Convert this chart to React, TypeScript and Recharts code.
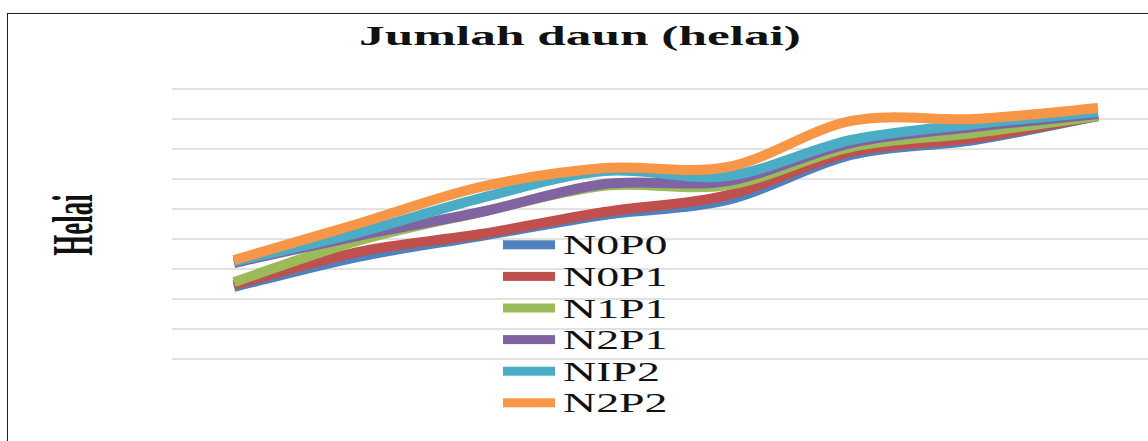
import { CartesianGrid, Legend, Line, LineChart, XAxis, YAxis } from "recharts"

// weekly observations (x labels are not shown in the chart)
const weeks = ["1", "2", "3", "4", "5", "6", "7", "8"]

const n0p0 = [4.8, 6.8, 8.2, 9.6, 10.6, 13.6, 14.6, 16.2]
const n0p1 = [4.93, 7.13, 8.33, 9.8, 10.93, 13.8, 14.73, 16.2]
const n1p1 = [5.13, 7.87, 9.8, 11.55, 11.6, 14.13, 15.07, 16.2]
const n2p1 = [6.4, 8.2, 9.8, 11.67, 11.87, 14.4, 15.47, 16.33]
const nip2 = [6.5, 8.4, 10.73, 12.53, 12.2, 14.6, 15.67, 16.47]
const n2p2 = [6.6, 9.0, 11.47, 12.73, 12.8, 15.87, 16.0, 16.73]

const yTicks = [0, 2, 4, 6, 8, 10, 12, 14, 16, 18]

const series = [
  { name: "N0P0", values: n0p0, color: "#4F81BD" },
  { name: "N0P1", values: n0p1, color: "#C0504D" },
  { name: "N1P1", values: n1p1, color: "#9BBB59" },
  { name: "N2P1", values: n2p1, color: "#8064A2" },
  { name: "NIP2", values: nip2, color: "#4BACC6" },
  { name: "N2P2", values: n2p2, color: "#F79646" },
]

const data = weeks.map((week, i) => {
  const row: Record<string, string | number> = { week }
  series.forEach((s) => { row[s.name] = s.values[i] })
  return row
})

// Excel-like smoothed line (Catmull-Rom through the points)
function excelSmooth(context: any) {
  let pts: number[][] = []
  return {
    areaStart() {},
    areaEnd() {},
    lineStart() { pts = [] },
    point(x: number, y: number) { pts.push([+x, +y]) },
    lineEnd() {
      if (!pts.length) return
      context.moveTo(pts[0][0], pts[0][1])
      for (let i = 0; i < pts.length - 1; i++) {
        const p0 = pts[i - 1] || pts[i]
        const p1 = pts[i]
        const p2 = pts[i + 1]
        const p3 = pts[i + 2] || p2
        context.bezierCurveTo(
          p1[0] + (p2[0] - p0[0]) / 6, p1[1] + (p2[1] - p0[1]) / 6,
          p2[0] - (p3[0] - p1[0]) / 6, p2[1] - (p3[1] - p1[1]) / 6,
          p2[0], p2[1],
        )
      }
    },
  }
}

const ROW = 31.6

function LegendList() {
  return (
    <svg width={220} height={ROW * series.length} style={{ display: "block" }}>
      {series.map((s, i) => (
        <g key={s.name} transform={`translate(0 ${i * ROW + ROW / 2})`}>
          <rect x={0} y={-4.5} width={52} height={9} fill={s.color} />
          <g transform="translate(60 9.5) scale(1.7 1)">
            <text x={0} y={0} fontFamily="Liberation Serif" fontSize={27} fill="#111">{s.name}</text>
          </g>
        </g>
      ))}
    </svg>
  )
}

export default function App() {
  return (
    <div style={{ position: "absolute", left: 0, top: 0, width: 1148, height: 441, overflow: "hidden", background: "#fff" }}>
      <div style={{ position: "absolute", left: 7, top: 13, width: 1300, height: 600, border: "1.5px solid #222", boxSizing: "border-box" }} />
      <div style={{ position: "absolute", left: 0, top: 0 }}>
        <LineChart width={1200} height={441} data={data} margin={{ top: 89, right: 39, bottom: 82, left: 172 }}>
          <CartesianGrid vertical={false} stroke="#d9d9d9" strokeWidth={1.5} />
          <XAxis dataKey="week" hide padding={{ left: 62, right: 63 }} />
          <YAxis hide domain={[0, 18]} ticks={yTicks} />
          <Legend layout="vertical" align="center" verticalAlign="middle" content={<LegendList />} wrapperStyle={{ left: 503, top: 229, width: 220 }} />
          {series.map((s) => (
            <Line key={s.name} dataKey={s.name} name={s.name} type={excelSmooth as any} stroke={s.color} strokeWidth={10} dot={false} activeDot={false} isAnimationActive={false} />
          ))}
        </LineChart>
      </div>
      <svg width={1148} height={441} style={{ position: "absolute", left: 0, top: 0, pointerEvents: "none" }}>
        <g transform="translate(580 45) scale(1.9 1)">
          <text x={0} y={0} textAnchor="middle" fontFamily="Liberation Serif" fontWeight="bold" fontSize={27} fill="#111">Jumlah daun (helai)</text>
        </g>
        <g transform="translate(92 225) rotate(-90) scale(1 2.1)">
          <text x={0} y={0} textAnchor="middle" fontFamily="Liberation Serif" fontWeight="bold" fontSize={27} fill="#111">Helai</text>
        </g>
      </svg>
    </div>
  )
}
